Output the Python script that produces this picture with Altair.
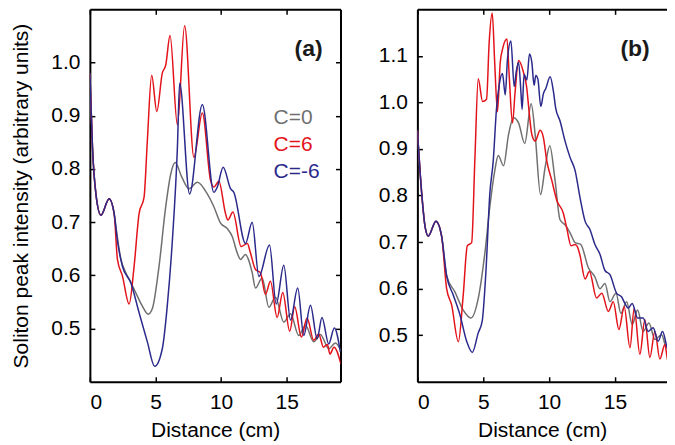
import altair as alt
import pandas as pd

FONT = "Liberation Sans"
GRAY = "#707070"
RED = "#e3131b"
BLUE = "#2b2a8c"

X_TICKS = [0, 5, 10, 15]
A_Y_TICKS = [0.5, 0.6, 0.7, 0.8, 0.9, 1.0]
B_Y_TICKS = [0.5, 0.6, 0.7, 0.8, 0.9, 1.0, 1.1]
LEGEND_LABELS = ["C=0", "C=6", "C=-6"]
X_TITLE = "Distance (cm)"
Y_TITLE = "Soliton peak intensity (arbitrary units)"

# ---------------- panel (a) ----------------
A_X_COMMON = [0.0, 0.2, 0.46, 0.84, 1.47, 1.85]
A_Y_COMMON = [0.98, 0.84, 0.753, 0.713, 0.744, 0.716]

A_X_GRAY = [2.05, 2.35, 2.74, 3.1, 3.5, 4.0, 4.45, 4.77, 5.27, 5.78, 6.16, 6.5, 7.0, 7.55,
            8.19, 8.95, 9.45, 9.96, 10.47, 10.85, 11.23, 11.48, 11.86, 12.05, 12.37, 12.62,
            13.13, 13.64, 14.14, 14.78, 15.29, 15.92, 16.43, 17.06, 17.57, 18.2, 18.71, 19.2]
A_Y_GRAY = [0.68, 0.632, 0.605, 0.588, 0.567, 0.542, 0.527, 0.538, 0.617, 0.729, 0.79, 0.812,
            0.785, 0.763, 0.775, 0.753, 0.729, 0.698, 0.688, 0.673, 0.642, 0.63, 0.639, 0.632,
            0.605, 0.576, 0.595, 0.54, 0.559, 0.512, 0.528, 0.487, 0.506, 0.475, 0.489, 0.462,
            0.473, 0.455]

A_X_RED = [2.1, 2.48, 2.99, 3.37, 3.75, 4.13, 4.38, 4.71, 5.1, 5.52, 5.78, 6.11, 6.67, 7.22,
           7.93, 8.57, 9.2, 9.45, 9.83, 10.34, 10.52, 10.9, 11.53, 12.0, 12.24, 12.62, 13.0,
           13.38, 13.76, 14.27, 14.7, 15.23, 15.61, 16.12, 16.55, 17.06, 17.44, 17.8, 18.1,
           18.3, 18.6, 19.14]
A_Y_RED = [0.63, 0.599, 0.546, 0.617, 0.716, 0.747, 0.853, 0.976, 0.908, 0.98, 0.995, 1.051,
           0.883, 1.069, 0.822, 0.905, 0.778, 0.766, 0.777, 0.716, 0.704, 0.719, 0.654, 0.66,
           0.642, 0.611, 0.605, 0.564, 0.589, 0.521, 0.568, 0.495, 0.541, 0.484, 0.52, 0.478,
           0.49, 0.465, 0.47, 0.452, 0.465, 0.433]

A_X_BLUE = [2.1, 2.48, 3.12, 3.75, 4.38, 4.94, 5.52, 5.9, 6.29, 6.67, 6.84, 7.6, 8.57, 9.45,
            9.71, 10.16, 10.72, 10.97, 11.86, 12.37, 12.88, 13.69, 14.2, 14.78, 15.29, 15.84,
            16.3, 16.81, 17.32, 17.69, 18.2, 18.63, 19.09]
A_Y_BLUE = [0.665, 0.617, 0.586, 0.53, 0.475, 0.429, 0.462, 0.543, 0.667, 0.84, 0.961, 0.753,
            0.921, 0.756, 0.766, 0.803, 0.763, 0.756, 0.66, 0.70, 0.598, 0.657, 0.546, 0.619,
            0.516, 0.576, 0.487, 0.544, 0.481, 0.521, 0.471, 0.501, 0.456]

# ---------------- panel (b) ----------------
B_X_COMMON = [0.0, 0.33, 0.58, 0.83, 1.41, 1.84]
B_Y_COMMON = [0.94, 0.804, 0.734, 0.713, 0.745, 0.713]

B_X_GRAY = [2.22, 2.85, 3.48, 4.07, 4.62, 5.13, 5.5, 5.88, 6.14, 6.54, 6.92, 7.3, 7.68, 8.15,
            8.64, 8.94, 9.35, 9.7, 10.05, 10.45, 10.83, 11.25, 11.59, 11.97, 12.4, 12.98,
            13.48, 13.86, 14.24, 14.62, 15.08, 15.45, 15.89, 16.31, 16.72, 17.14, 17.58,
            18.03, 18.54, 18.92, 19.42]
B_Y_GRAY = [0.628, 0.593, 0.554, 0.537, 0.579, 0.678, 0.776, 0.854, 0.886, 0.864, 0.931, 0.967,
            0.956, 0.912, 0.997, 0.931, 0.802, 0.861, 0.907, 0.833, 0.748, 0.736, 0.72, 0.699,
            0.695, 0.645, 0.625, 0.60, 0.611, 0.572, 0.59, 0.547, 0.572, 0.523, 0.554, 0.508,
            0.526, 0.491, 0.501, 0.473, 0.487]

B_X_RED = [2.22, 2.6, 3.11, 3.48, 3.79, 4.12, 4.37, 4.62, 4.95, 5.25, 5.45, 5.68, 5.88, 6.08,
           6.29, 6.47, 6.8, 6.97, 7.22, 7.42, 7.68, 8.05, 8.31, 8.43, 8.69, 8.94, 9.32, 9.57,
           9.82, 10.2, 10.58, 11.08, 11.34, 11.67, 11.97, 12.15, 12.35, 12.73, 13.06, 13.6,
           14.0, 14.5, 14.87, 15.3, 15.7, 16.14, 16.46, 16.89, 17.27, 17.65, 18.03, 18.41,
           18.79, 19.04, 19.42]
B_Y_RED = [0.60, 0.565, 0.486, 0.586, 0.692, 0.699, 0.882, 1.051, 1.002, 1.007, 1.129, 1.192,
           1.079, 0.98, 1.086, 1.115, 1.136, 1.058, 0.956, 1.023, 1.09, 1.065, 1.03, 0.995,
           0.931, 0.917, 0.94, 0.924, 0.875, 0.833, 0.79, 0.762, 0.73, 0.692, 0.695, 0.69,
           0.671, 0.621, 0.637, 0.58, 0.59, 0.551, 0.572, 0.512, 0.561, 0.473, 0.558, 0.459,
           0.533, 0.452, 0.508, 0.449, 0.48, 0.442, 0.473]

B_X_BLUE = [2.22, 2.73, 3.23, 3.74, 4.17, 4.62, 4.92, 5.2, 5.5, 5.76, 6.01, 6.21, 6.46, 6.67,
            6.84, 7.1, 7.35, 7.5, 7.68, 7.86, 7.95, 8.1, 8.31, 8.51, 8.69, 8.86, 8.99, 9.15,
            9.37, 9.57, 9.75, 10.08, 10.33, 10.5, 10.83, 11.21, 11.59, 11.97, 12.35, 12.73,
            13.1, 13.48, 13.86, 14.24, 14.62, 15.13, 15.51, 15.76, 16.0, 16.31, 16.72, 17.14,
            17.52, 17.9, 18.28, 18.61, 19.04, 19.37]
B_Y_BLUE = [0.628, 0.586, 0.544, 0.487, 0.463, 0.505, 0.53, 0.635, 0.804, 0.875, 0.988, 1.037,
            1.062, 1.016, 1.093, 1.132, 1.034, 1.065, 1.086, 1.023, 0.985, 1.06, 1.048, 1.104,
            1.086, 1.037, 1.058, 1.05, 0.991, 1.019, 1.03, 1.055, 1.023, 0.988, 0.96, 0.917,
            0.882, 0.854, 0.795, 0.745, 0.727, 0.695, 0.674, 0.639, 0.63, 0.59, 0.582, 0.568,
            0.558, 0.568, 0.537, 0.537, 0.508, 0.516, 0.487, 0.508, 0.47, 0.484]

W_A, W_B, H = 251, 250, 373
A_XMAX, B_XMAX = 19.1, 18.95
A_YDOM, B_YDOM = [0.4, 1.1], [0.4, 1.2]


def series(xc, yc, xs, ys):
    return pd.DataFrame({"x": xc + xs, "y": yc + ys})


AX = dict(grid=False, domainColor="black", domainWidth=2, tickColor="black",
          tickWidth=1.5, tickSize=5, labelFont=FONT, labelFontSize=21,
          labelColor="black", titleFont=FONT, titleFontSize=21, titleColor="black",
          titleFontWeight="normal")


def panel(common, gray, red, blue, yticks, ydom, xmax, W, tag, ytitle, right_frame):
    xs = alt.Scale(domain=[0, xmax], nice=False, zero=False)
    ysc = alt.Scale(domain=ydom, nice=False, zero=False)
    # main axes: labels, titles, bottom/left frame
    x_main = alt.Axis(orient="bottom", values=X_TICKS, ticks=False, domain=True,
                      labelPadding=10, title=X_TITLE, titlePadding=7, **AX)
    y_main = alt.Axis(orient="left", values=yticks, format=".1f", ticks=False, domain=True,
                      labelPadding=10, title=ytitle, titlePadding=19, **AX)
    # inward ticks at bottom / left edges
    x_in_b = alt.Axis(orient="top", offset=-H, values=X_TICKS, labels=False, domain=False,
                      title=None, **AX)
    y_in_l = alt.Axis(orient="right", offset=-W, values=yticks, labels=False, domain=False,
                      title=None, **AX)
    # inward ticks at top / right edges (+ top/right frame)
    x_in_t = alt.Axis(orient="bottom", offset=-H, values=X_TICKS, labels=False, domain=True,
                      title=None, **AX)
    y_in_r = alt.Axis(orient="left", offset=-W, values=yticks, labels=False, domain=True,
                      title=None, **AX) if right_frame else None

    def line(df, color, xa, ya):
        return alt.Chart(df).mark_line(color=color, strokeWidth=1.5, clip=True,
                                       interpolate="monotone").encode(
            x=alt.X("x:Q", scale=xs, axis=xa),
            y=alt.Y("y:Q", scale=ysc, axis=ya))

    lg = line(series(*common, *gray), GRAY, x_main, y_main)
    lr = line(series(*common, *red), RED, x_in_b, y_in_l)
    lb = line(series(*common, *blue), BLUE, x_in_t, y_in_r)

    layers = [lg, lr, lb]
    layers.append(alt.Chart(pd.DataFrame({"t": [tag]})).mark_text(
        font=FONT, fontSize=23, fontWeight="bold", color="#1a1a1a", align="center",
        baseline="middle").encode(text="t:N", x=alt.value(W - 32), y=alt.value(40)))
    return alt.layer(*layers).resolve_axis(x="independent", y="independent").properties(
        width=W, height=H)


left = panel((A_X_COMMON, A_Y_COMMON), (A_X_GRAY, A_Y_GRAY), (A_X_RED, A_Y_RED),
             (A_X_BLUE, A_Y_BLUE), A_Y_TICKS, A_YDOM, A_XMAX, W_A, "(a)", Y_TITLE, True)

legend_layers = []
for i, (lab, col) in enumerate(zip(LEGEND_LABELS, [GRAY, RED, BLUE])):
    legend_layers.append(alt.Chart(pd.DataFrame({"t": [lab]})).mark_text(
        font=FONT, fontSize=21, color=col, align="left", baseline="middle").encode(
        text="t:N", x=alt.value(184), y=alt.value(109 + 27 * i)))
left = alt.layer(left, *legend_layers)

right = panel((B_X_COMMON, B_Y_COMMON), (B_X_GRAY, B_Y_GRAY), (B_X_RED, B_Y_RED),
              (B_X_BLUE, B_Y_BLUE), B_Y_TICKS, B_YDOM, B_XMAX, W_B, "(b)", None, False)

chart = alt.hconcat(left, right, spacing=36).properties(
    padding={"left": 2, "top": 0, "right": 0, "bottom": 0}
).configure_view(stroke=None)

chart.save("out.html", embed_options={"renderer": "svg", "actions": False})
